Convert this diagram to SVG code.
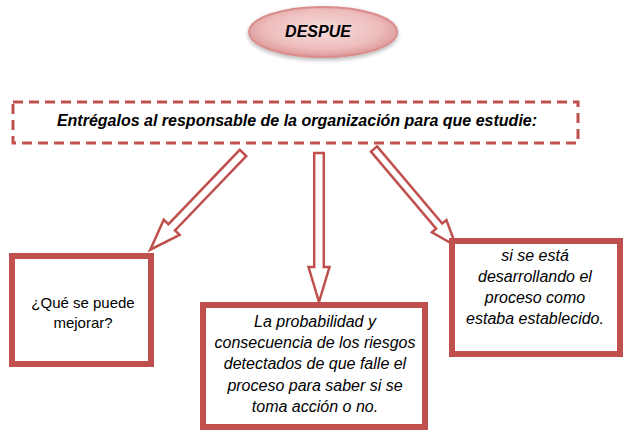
<svg xmlns="http://www.w3.org/2000/svg" width="640" height="439" viewBox="0 0 640 439">
<defs>
<radialGradient id="pill" cx="50%" cy="45%" r="55%">
<stop offset="0" stop-color="#f6dcdc"/>
<stop offset="0.7" stop-color="#eebdbd"/>
<stop offset="1" stop-color="#dd9898"/>
</radialGradient>
<filter id="sh" x="-20%" y="-20%" width="140%" height="160%">
<feGaussianBlur in="SourceAlpha" stdDeviation="2"/>
<feOffset dy="2"/>
<feComponentTransfer><feFuncA type="linear" slope="0.3"/></feComponentTransfer>
<feMerge><feMergeNode/><feMergeNode in="SourceGraphic"/></feMerge>
</filter>
</defs>
<style>
.box{fill:#fff;stroke:#c0504d;stroke-width:6}
.dash{fill:#fff;stroke:#c0504d;stroke-width:3;stroke-dasharray:10 6}
.arr{fill:#fff;stroke:#c0504d;stroke-width:2.5;stroke-linejoin:miter}
.t{font-family:"Liberation Sans",Arial,sans-serif;font-size:16px;fill:#000;text-anchor:middle}
.it{font-style:italic}
.bi{font-weight:bold;font-style:italic}
</style>
<rect width="640" height="439" fill="#fff"/>
<g id="despue">
<ellipse cx="323" cy="32" rx="74" ry="25" fill="url(#pill)" stroke="#d98d8c" stroke-width="2" filter="url(#sh)"/>
<text class="t bi" x="318" y="37">DESPUE</text>
</g>
<g id="entregalos">
<rect class="dash" x="13" y="102" width="565" height="41"/>
<text class="t bi" x="297" y="126">Entrégalos al responsable de la organización para que estudie:</text>
</g>
<g id="connectors">
<path class="arr" transform="translate(243,153) rotate(133.8)" d="M0,-4.5 L103,-4.5 L103,-11 L134,0 L103,11 L103,4.5 L0,4.5 Z"/>
<path class="arr" transform="translate(319,153) rotate(90)" d="M0,-4.8 L114,-4.8 L114,-10.5 L149,0 L114,10.5 L114,4.8 L0,4.8 Z"/>
<path class="arr" transform="translate(374,149) rotate(49.8)" d="M0,-4 L101,-4 L101,-9.5 L127,0 L101,9.5 L101,4 L0,4 Z"/>
</g>
<g id="mejorar">
<rect class="box" x="12" y="256" width="139" height="108"/>
<text class="t" x="83" y="308" style="font-size:15px">¿Qué se puede</text>
<text class="t" x="83" y="328" style="font-size:15px">mejorar?</text>
</g>
<g id="probabilidad">
<rect class="box" x="203" y="305" width="222" height="122"/>
<text class="t it" x="315" y="327">La probabilidad y</text>
<text class="t it" x="315" y="348">consecuencia de los riesgos</text>
<text class="t it" x="315" y="369">detectados de que falle el</text>
<text class="t it" x="315" y="391">proceso para saber si se</text>
<text class="t it" x="315" y="412">toma acción o no.</text>
</g>
<g id="desarrollando">
<rect class="box" x="452" y="241" width="168" height="113"/>
<text class="t it" x="535" y="261">si se está</text>
<text class="t it" x="535" y="282">desarrollando el</text>
<text class="t it" x="535" y="303">proceso como</text>
<text class="t it" x="535" y="324">estaba establecido.</text>
</g>
</svg>
